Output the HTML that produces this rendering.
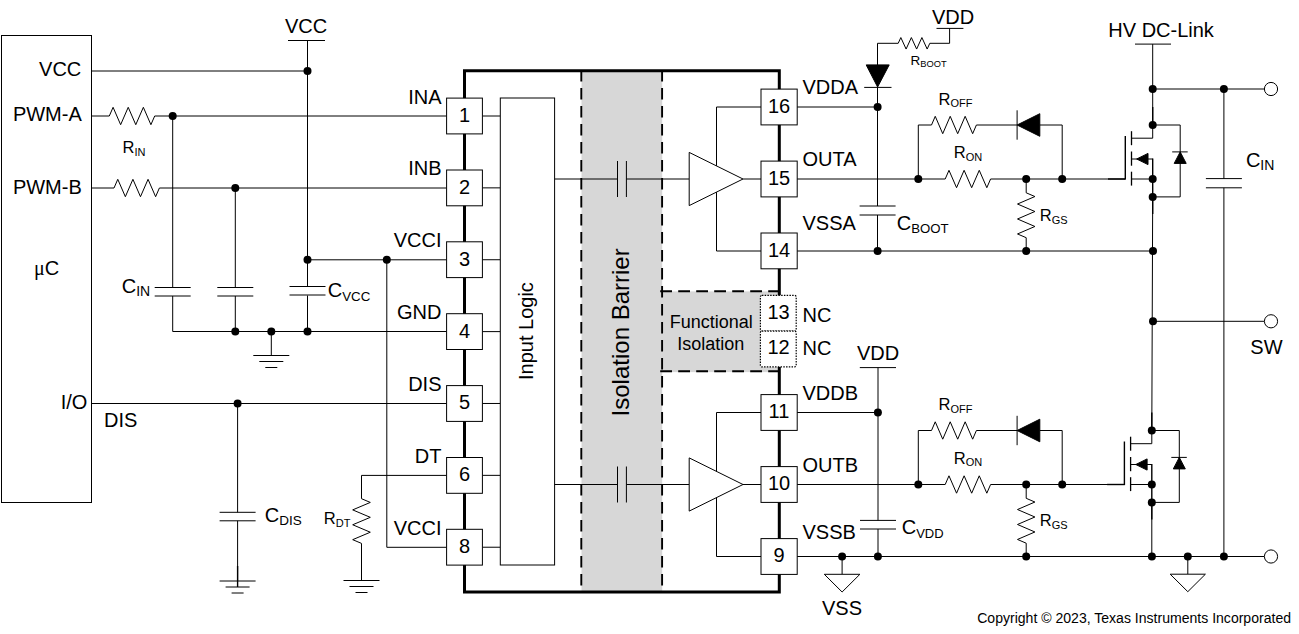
<!DOCTYPE html>
<html><head><meta charset="utf-8"><style>
html,body{margin:0;padding:0;background:#fff;width:1299px;height:634px;overflow:hidden}
svg{display:block}
text{font-family:"Liberation Sans",sans-serif}
</style></head><body>
<svg width="1299" height="634" viewBox="0 0 1299 634">
<rect x="0" y="0" width="1299" height="634" fill="#fff"/>
<rect x="581.5" y="71" width="80.7" height="520.5" fill="#d7d7d7"/>
<rect x="662" y="291.4" width="117" height="80.7" fill="#d7d7d7"/>
<g stroke="#000" stroke-width="1" fill="none">
<rect x="1.5" y="35.5" width="90" height="467" />
<line x1="288" y1="40.5" x2="325" y2="40.5" />
<line x1="307.5" y1="40.5" x2="307.5" y2="287" />
<line x1="307.5" y1="295.5" x2="307.5" y2="331.5" />
<line x1="91.5" y1="71" x2="307.5" y2="71" />
<circle cx="307.5" cy="71" r="4.0" fill="#000" stroke="none"/>
<line x1="91.5" y1="116" x2="109.3" y2="116" />
<polyline points="109.30,116.00 113.08,107.30 120.65,124.70 128.22,107.30 135.78,124.70 143.35,107.30 150.92,124.70 154.70,116.00" fill="none" />
<line x1="154.7" y1="116" x2="446.6" y2="116" />
<circle cx="172.7" cy="116" r="4.0" fill="#000" stroke="none"/>
<line x1="172.7" y1="116" x2="172.7" y2="287.5" />
<line x1="154.7" y1="287.5" x2="190.7" y2="287.5" />
<line x1="154.7" y1="296" x2="190.7" y2="296" />
<line x1="172.7" y1="296" x2="172.7" y2="331.5" />
<line x1="91.5" y1="188" x2="114" y2="188" />
<polyline points="114.00,188.00 117.78,179.30 125.35,196.70 132.92,179.30 140.48,196.70 148.05,179.30 155.62,196.70 159.40,188.00" fill="none" />
<line x1="159.4" y1="188" x2="446.6" y2="188" />
<circle cx="235.3" cy="188" r="4.0" fill="#000" stroke="none"/>
<line x1="235.3" y1="188" x2="235.3" y2="287.5" />
<line x1="217.3" y1="287.5" x2="253.3" y2="287.5" />
<line x1="217.3" y1="296" x2="253.3" y2="296" />
<line x1="235.3" y1="296" x2="235.3" y2="331.5" />
<line x1="289.5" y1="286.5" x2="325.5" y2="286.5" />
<line x1="289.5" y1="295" x2="325.5" y2="295" />
<line x1="307.5" y1="259.8" x2="446.6" y2="259.8" />
<circle cx="307.5" cy="259.8" r="4.0" fill="#000" stroke="none"/>
<circle cx="386.8" cy="259.8" r="4.0" fill="#000" stroke="none"/>
<line x1="386.8" y1="259.8" x2="386.8" y2="547.3" />
<line x1="386.8" y1="547.3" x2="446.6" y2="547.3" />
<line x1="172.7" y1="331.5" x2="446.6" y2="331.5" />
<circle cx="235.3" cy="331.5" r="4.0" fill="#000" stroke="none"/>
<circle cx="271.3" cy="331.5" r="4.0" fill="#000" stroke="none"/>
<circle cx="307.5" cy="331.5" r="4.0" fill="#000" stroke="none"/>
<line x1="271.3" y1="331.5" x2="271.3" y2="355.5" />
<line x1="253.3" y1="355.5" x2="289.3" y2="355.5" />
<line x1="259.3" y1="361.5" x2="283.3" y2="361.5" />
<line x1="265.3" y1="367.5" x2="277.3" y2="367.5" />
<line x1="91.5" y1="403.5" x2="446.6" y2="403.5" />
<circle cx="237.6" cy="403.5" r="4.0" fill="#000" stroke="none"/>
<line x1="237.6" y1="403.5" x2="237.6" y2="512.3" />
<line x1="219.6" y1="512.3" x2="255.6" y2="512.3" />
<line x1="219.6" y1="520.8" x2="255.6" y2="520.8" />
<line x1="237.6" y1="520.8" x2="237.6" y2="581" />
<line x1="237.6" y1="566" x2="237.6" y2="587" stroke-width="1.4" />
<line x1="219.6" y1="581" x2="255.6" y2="581" />
<line x1="225.6" y1="587.0" x2="249.6" y2="587.0" />
<line x1="231.6" y1="593.0" x2="243.6" y2="593.0" />
<line x1="361.5" y1="475.4" x2="446.6" y2="475.4" />
<line x1="361.5" y1="475.4" x2="361.5" y2="498.7" />
<polyline points="361.50,498.70 370.30,502.43 352.70,509.88 370.30,517.33 352.70,524.77 370.30,532.23 352.70,539.67 361.50,543.40" fill="none" />
<line x1="361.5" y1="543.4" x2="361.5" y2="580.5" />
<line x1="343.5" y1="580.5" x2="379.5" y2="580.5" />
<line x1="349.5" y1="586.5" x2="373.5" y2="586.5" />
<line x1="355.5" y1="592.5" x2="367.5" y2="592.5" />
<line x1="482.4" y1="116.0" x2="500.3" y2="116.0" />
<line x1="482.4" y1="187.87" x2="500.3" y2="187.87" />
<line x1="482.4" y1="259.74" x2="500.3" y2="259.74" />
<line x1="482.4" y1="331.61" x2="500.3" y2="331.61" />
<line x1="482.4" y1="403.48" x2="500.3" y2="403.48" />
<line x1="482.4" y1="475.35" x2="500.3" y2="475.35" />
<line x1="482.4" y1="547.22" x2="500.3" y2="547.22" />
<rect x="500.3" y="98" width="54.3" height="467" fill="#fff"/>
<line x1="554.6" y1="179.0" x2="617.5" y2="179.0" />
<line x1="617.5" y1="161.0" x2="617.5" y2="197.0" />
<line x1="626.4" y1="161.0" x2="626.4" y2="197.0" />
<line x1="626.4" y1="179.0" x2="689.2" y2="179.0" />
<line x1="554.6" y1="484.5" x2="617.5" y2="484.5" />
<line x1="617.5" y1="466.5" x2="617.5" y2="502.5" />
<line x1="626.4" y1="466.5" x2="626.4" y2="502.5" />
<line x1="626.4" y1="484.5" x2="689.2" y2="484.5" />
<polygon points="689.20,152.40 689.20,205.60 743.00,179.00" fill="#fff"/>
<line x1="743" y1="179.0" x2="761" y2="179.0" />
<line x1="716.5" y1="107.0" x2="716.5" y2="165.89776951672863" />
<line x1="716.5" y1="192.10223048327137" x2="716.5" y2="251.0" />
<line x1="716.5" y1="107.0" x2="761" y2="107.0" />
<line x1="716.5" y1="251.0" x2="761" y2="251.0" />
<polygon points="689.20,457.90 689.20,511.10 743.00,484.50" fill="#fff"/>
<line x1="743" y1="484.5" x2="761" y2="484.5" />
<line x1="716.5" y1="412.5" x2="716.5" y2="471.3977695167286" />
<line x1="716.5" y1="497.6022304832714" x2="716.5" y2="556.5" />
<line x1="716.5" y1="412.5" x2="761" y2="412.5" />
<line x1="716.5" y1="556.5" x2="761" y2="556.5" />
<g stroke-width="1.9" stroke-dasharray="11.7 6.3">
<line x1="581.3" y1="69.9" x2="581.3" y2="586" />
<line x1="662.1" y1="69.9" x2="662.1" y2="586" />
</g>
<g stroke-width="1.9" stroke-dasharray="11.8 6.2">
<line x1="660.2" y1="291.3" x2="779" y2="291.3" />
<line x1="660.2" y1="371.3" x2="779" y2="371.3" />
</g>
<path d="M779.3,295.5 L779.3,70.7 L464.5,70.7 L464.5,591.9 L779.3,591.9 L779.3,367" stroke-width="3" stroke-linejoin="miter"/>
<rect x="446.6" y="98.1" width="35.8" height="35.8" fill="#fff"/>
<rect x="446.6" y="170.0" width="35.8" height="35.8" fill="#fff"/>
<rect x="446.6" y="241.8" width="35.8" height="35.8" fill="#fff"/>
<rect x="446.6" y="313.7" width="35.8" height="35.8" fill="#fff"/>
<rect x="446.6" y="385.6" width="35.8" height="35.8" fill="#fff"/>
<rect x="446.6" y="457.5" width="35.8" height="35.8" fill="#fff"/>
<rect x="446.6" y="529.3" width="35.8" height="35.8" fill="#fff"/>
<rect x="761" y="89.1" width="36.2" height="35.8" fill="#fff"/>
<rect x="761" y="161.1" width="36.2" height="35.8" fill="#fff"/>
<rect x="761" y="233.0" width="36.2" height="35.8" fill="#fff"/>
<rect x="761" y="394.6" width="36.2" height="35.8" fill="#fff"/>
<rect x="761" y="466.6" width="36.2" height="35.8" fill="#fff"/>
<rect x="761" y="538.6" width="36.2" height="35.8" fill="#fff"/>
<g stroke-dasharray="1.5 1.25" stroke-width="1.2">
<rect x="760.4" y="295.4" width="35.8" height="35.7" rx="1.5" fill="#fff"/>
<rect x="760.4" y="331.1" width="35.8" height="35.8" rx="1.5" fill="#fff"/>
</g>
<line x1="797.2" y1="107" x2="877.5" y2="107" />
<circle cx="877.6" cy="107" r="4.0" fill="#000" stroke="none"/>
<line x1="877.5" y1="43.3" x2="877.5" y2="206" />
<polygon points="866.20,64.90 889.20,64.90 877.60,87.00" fill="#000"/>
<line x1="864.2" y1="87.4" x2="891.5" y2="87.4" />
<line x1="859.6" y1="206" x2="895.6" y2="206" />
<line x1="859.6" y1="215" x2="895.6" y2="215" />
<line x1="877.5" y1="215" x2="877.5" y2="251" />
<line x1="877.5" y1="43.3" x2="898.2" y2="43.3" />
<polyline points="898.20,43.30 900.83,37.55 906.10,49.05 911.37,37.55 916.63,49.05 921.90,37.55 927.17,49.05 929.80,43.30" fill="none" />
<line x1="929.8" y1="43.3" x2="949.6" y2="43.3" />
<line x1="949.6" y1="43.3" x2="949.6" y2="28.4" />
<line x1="936.5" y1="28.4" x2="963.4" y2="28.4" />
<line x1="797.2" y1="179.0" x2="1125.3" y2="179.0" />
<circle cx="918.3" cy="179.0" r="4.0" fill="#000" stroke="none"/>
<circle cx="1026.2" cy="179.0" r="4.0" fill="#000" stroke="none"/>
<circle cx="1062.2" cy="179.0" r="4.0" fill="#000" stroke="none"/>
<line x1="918.3" y1="179.0" x2="918.3" y2="125.0" />
<line x1="918.3" y1="125.0" x2="931.5" y2="125.0" />
<polyline points="931.50,125.00 935.24,116.30 942.73,133.70 950.21,116.30 957.69,133.70 965.17,116.30 972.66,133.70 976.40,125.00" fill="none" />
<line x1="976.4" y1="125.0" x2="1017.1" y2="125.0" />
<line x1="1017.1" y1="110.3" x2="1017.1" y2="139.7" />
<polygon points="1017.10,125.00 1039.80,113.70 1039.80,136.30" fill="#000"/>
<line x1="1039.8" y1="125.0" x2="1062.2" y2="125.0" />
<line x1="1062.2" y1="125.0" x2="1062.2" y2="179.0" />
<line x1="945.2" y1="179.0" x2="990.6" y2="179.0" stroke="#fff" stroke-width="3"/>
<polyline points="945.20,179.00 948.98,170.30 956.55,187.70 964.12,170.30 971.68,187.70 979.25,170.30 986.82,187.70 990.60,179.00" fill="none" />
<line x1="1026.2" y1="179.0" x2="1026.2" y2="192.8" />
<polyline points="1026.20,192.80 1034.90,196.54 1017.50,204.03 1034.90,211.51 1017.50,218.99 1034.90,226.47 1017.50,233.96 1026.20,237.70" fill="none" />
<line x1="1026.2" y1="237.7" x2="1026.2" y2="251.0" />
<circle cx="1026.2" cy="251.0" r="4.0" fill="#000" stroke="none"/>
<line x1="797.2" y1="484.5" x2="1124" y2="484.5" />
<circle cx="918.3" cy="484.5" r="4.0" fill="#000" stroke="none"/>
<circle cx="1026.2" cy="484.5" r="4.0" fill="#000" stroke="none"/>
<circle cx="1062.2" cy="484.5" r="4.0" fill="#000" stroke="none"/>
<line x1="918.3" y1="484.5" x2="918.3" y2="430.5" />
<line x1="918.3" y1="430.5" x2="931.5" y2="430.5" />
<polyline points="931.50,430.50 935.24,421.80 942.73,439.20 950.21,421.80 957.69,439.20 965.17,421.80 972.66,439.20 976.40,430.50" fill="none" />
<line x1="976.4" y1="430.5" x2="1017.1" y2="430.5" />
<line x1="1017.1" y1="415.8" x2="1017.1" y2="445.2" />
<polygon points="1017.10,430.50 1039.80,419.20 1039.80,441.80" fill="#000"/>
<line x1="1039.8" y1="430.5" x2="1062.2" y2="430.5" />
<line x1="1062.2" y1="430.5" x2="1062.2" y2="484.5" />
<line x1="945.2" y1="484.5" x2="990.6" y2="484.5" stroke="#fff" stroke-width="3"/>
<polyline points="945.20,484.50 948.98,475.80 956.55,493.20 964.12,475.80 971.68,493.20 979.25,475.80 986.82,493.20 990.60,484.50" fill="none" />
<line x1="1026.2" y1="484.5" x2="1026.2" y2="498.3" />
<polyline points="1026.20,498.30 1034.90,502.04 1017.50,509.53 1034.90,517.01 1017.50,524.49 1034.90,531.98 1017.50,539.46 1026.20,543.20" fill="none" />
<line x1="1026.2" y1="543.2" x2="1026.2" y2="556.5" />
<circle cx="1026.2" cy="556.5" r="4.0" fill="#000" stroke="none"/>
<line x1="797.2" y1="251" x2="1153" y2="251" />
<circle cx="877.6" cy="251" r="4.0" fill="#000" stroke="none"/>
<circle cx="1153" cy="251" r="4.0" fill="#000" stroke="none"/>
<line x1="1135" y1="44.1" x2="1171" y2="44.1" />
<line x1="1152.7" y1="44.1" x2="1152.7" y2="125" />
<line x1="1152.7" y1="89" x2="1264.4" y2="89" />
<circle cx="1152.7" cy="89" r="4.0" fill="#000" stroke="none"/>
<circle cx="1223.9" cy="89" r="4.0" fill="#000" stroke="none"/>
<circle cx="1271" cy="89" r="6.6" fill="#fff"/>
<line x1="1223.9" y1="89" x2="1223.9" y2="178.6" />
<line x1="1205.9" y1="178.6" x2="1241.9" y2="178.6" />
<line x1="1205.9" y1="187.8" x2="1241.9" y2="187.8" />
<line x1="1223.9" y1="187.8" x2="1223.9" y2="556.5" />
<line x1="1152.7" y1="107" x2="1152.7" y2="125" stroke-width="1.4" />
<circle cx="1152.7" cy="125" r="4.0" fill="#000" stroke="none"/>
<line x1="1152.7" y1="125" x2="1180.2" y2="125" />
<line x1="1180.2" y1="125" x2="1180.2" y2="196.9" />
<line x1="1180.2" y1="196.9" x2="1152.7" y2="196.9" />
<line x1="1172.2" y1="151.9" x2="1187.7" y2="151.9" />
<polygon points="1180.20,151.90 1174.20,163.40 1186.20,163.40" fill="#000"/>
<line x1="1125.3" y1="136" x2="1125.3" y2="179.6" stroke-width="1.4" />
<line x1="1108" y1="179.0" x2="1125.3" y2="179.0" stroke-width="1.4" />
<line x1="1131.5" y1="131.2" x2="1131.5" y2="145.2" stroke-width="1.3" />
<line x1="1131.5" y1="151.5" x2="1131.5" y2="165.7" stroke-width="1.3" />
<line x1="1131.5" y1="171.7" x2="1131.5" y2="185.6" stroke-width="1.3" />
<line x1="1131.5" y1="138.2" x2="1152.7" y2="138.2" />
<line x1="1152.7" y1="138.2" x2="1152.7" y2="125" />
<line x1="1131.5" y1="159" x2="1152.7" y2="159" />
<polygon points="1136.70,159.00 1148.00,153.40 1148.00,164.60" fill="#000"/>
<line x1="1152.7" y1="158.4" x2="1152.7" y2="179.0" stroke-width="1.4" />
<line x1="1131.5" y1="179.0" x2="1152.7" y2="179.0" />
<circle cx="1152.7" cy="179.0" r="4.0" fill="#000" stroke="none"/>
<line x1="1152.7" y1="179.0" x2="1152.7" y2="214" stroke-width="1.4" />
<circle cx="1152.7" cy="196.9" r="4.0" fill="#000" stroke="none"/>
<line x1="1151.8" y1="412.5" x2="1151.8" y2="430.5" stroke-width="1.4" />
<circle cx="1151.8" cy="430.5" r="4.0" fill="#000" stroke="none"/>
<line x1="1151.8" y1="430.5" x2="1179.3" y2="430.5" />
<line x1="1179.3" y1="430.5" x2="1179.3" y2="502.4" />
<line x1="1179.3" y1="502.4" x2="1151.8" y2="502.4" />
<line x1="1171.3" y1="457.4" x2="1186.8" y2="457.4" />
<polygon points="1179.30,457.40 1173.30,468.90 1185.30,468.90" fill="#000"/>
<line x1="1124.3999999999999" y1="441.5" x2="1124.3999999999999" y2="485.1" stroke-width="1.4" />
<line x1="1107.1" y1="484.5" x2="1124.3999999999999" y2="484.5" stroke-width="1.4" />
<line x1="1130.6" y1="436.7" x2="1130.6" y2="450.7" stroke-width="1.3" />
<line x1="1130.6" y1="457.0" x2="1130.6" y2="471.2" stroke-width="1.3" />
<line x1="1130.6" y1="477.2" x2="1130.6" y2="491.1" stroke-width="1.3" />
<line x1="1130.6" y1="443.7" x2="1151.8" y2="443.7" />
<line x1="1151.8" y1="443.7" x2="1151.8" y2="430.5" />
<line x1="1130.6" y1="464.5" x2="1151.8" y2="464.5" />
<polygon points="1135.80,464.50 1147.10,458.90 1147.10,470.10" fill="#000"/>
<line x1="1151.8" y1="463.9" x2="1151.8" y2="484.5" stroke-width="1.4" />
<line x1="1130.6" y1="484.5" x2="1151.8" y2="484.5" />
<circle cx="1151.8" cy="484.5" r="4.0" fill="#000" stroke="none"/>
<line x1="1151.8" y1="484.5" x2="1151.8" y2="519.5" stroke-width="1.4" />
<circle cx="1151.8" cy="502.4" r="4.0" fill="#000" stroke="none"/>
<line x1="1152.7" y1="196.9" x2="1151.8" y2="430.4" />
<circle cx="1153" cy="321.3" r="4.0" fill="#000" stroke="none"/>
<line x1="1153" y1="321.3" x2="1264.4" y2="321.3" />
<circle cx="1271" cy="321.3" r="6.6" fill="#fff"/>
<line x1="1151.8" y1="502.4" x2="1151.8" y2="556.5" />
<line x1="797.2" y1="412.5" x2="878" y2="412.5" />
<circle cx="877.9" cy="412.5" r="4.0" fill="#000" stroke="none"/>
<line x1="859.8" y1="367.6" x2="896" y2="367.6" />
<line x1="878" y1="367.6" x2="878" y2="520.4" />
<line x1="860" y1="520.4" x2="896" y2="520.4" />
<line x1="860" y1="529" x2="896" y2="529" />
<line x1="878" y1="529" x2="878" y2="556.5" />
<line x1="797.2" y1="556.5" x2="1264.4" y2="556.5" />
<circle cx="1271" cy="556.5" r="6.6" fill="#fff"/>
<circle cx="842.1" cy="556.5" r="4.0" fill="#000" stroke="none"/>
<circle cx="877.9" cy="556.5" r="4.0" fill="#000" stroke="none"/>
<circle cx="1151.9" cy="556.5" r="4.0" fill="#000" stroke="none"/>
<circle cx="1187.8" cy="556.5" r="4.0" fill="#000" stroke="none"/>
<circle cx="1223.9" cy="556.5" r="4.0" fill="#000" stroke="none"/>
<line x1="842.1" y1="556.5" x2="842.1" y2="574.3" />
<polygon points="824.30,574.30 859.90,574.30 842.10,592.00" fill="#fff"/>
<line x1="1187.8" y1="556.5" x2="1187.8" y2="574.2" />
<polygon points="1170.20,574.20 1205.40,574.20 1187.80,591.70" fill="#fff"/>
</g>
<g font-family="Liberation Sans, sans-serif" fill="#000" stroke="none">
<text x="81.3" y="76" font-size="20" text-anchor="end" >VCC</text>
<text x="81.8" y="121" font-size="20" text-anchor="end" >PWM-A</text>
<text x="81.8" y="194" font-size="20" text-anchor="end" >PWM-B</text>
<text x="34" y="274.8" font-size="20"><tspan font-family="Liberation Serif, serif">μ</tspan>C</text>
<text x="87.3" y="409" font-size="20" text-anchor="end" >I/O</text>
<text x="104" y="426.5" font-size="20" text-anchor="start" >DIS</text>
<text x="306" y="32.5" font-size="20" text-anchor="middle" >VCC</text>
<text x="441.5" y="103.6" font-size="20" text-anchor="end" >INA</text>
<text x="441.5" y="175.47" font-size="20" text-anchor="end" >INB</text>
<text x="441.5" y="247.34" font-size="20" text-anchor="end" >VCCI</text>
<text x="441.5" y="319.21000000000004" font-size="20" text-anchor="end" >GND</text>
<text x="441.5" y="391.08000000000004" font-size="20" text-anchor="end" >DIS</text>
<text x="441.5" y="462.95000000000005" font-size="20" text-anchor="end" >DT</text>
<text x="441.5" y="534.82" font-size="20" text-anchor="end" >VCCI</text>
<text x="464.5" y="121.9" font-size="20" text-anchor="middle" >1</text>
<text x="464.5" y="193.77" font-size="20" text-anchor="middle" >2</text>
<text x="464.5" y="265.64" font-size="20" text-anchor="middle" >3</text>
<text x="464.5" y="337.51" font-size="20" text-anchor="middle" >4</text>
<text x="464.5" y="409.38" font-size="20" text-anchor="middle" >5</text>
<text x="464.5" y="481.25" font-size="20" text-anchor="middle" >6</text>
<text x="464.5" y="553.12" font-size="20" text-anchor="middle" >8</text>
<text x="779" y="112.9" font-size="20" text-anchor="middle" >16</text>
<text x="779" y="184.9" font-size="20" text-anchor="middle" >15</text>
<text x="779" y="256.8" font-size="20" text-anchor="middle" >14</text>
<text x="779" y="418.4" font-size="20" text-anchor="middle" >11</text>
<text x="779" y="490.4" font-size="20" text-anchor="middle" >10</text>
<text x="779" y="562.4" font-size="20" text-anchor="middle" >9</text>
<text x="778.5" y="318.6" font-size="20" text-anchor="middle" >13</text>
<text x="778.5" y="354.3" font-size="20" text-anchor="middle" >12</text>
<text x="802.5" y="94.3" font-size="20" text-anchor="start" >VDDA</text>
<text x="802.5" y="166" font-size="20" text-anchor="start" >OUTA</text>
<text x="802.5" y="229.6" font-size="20" text-anchor="start" >VSSA</text>
<text x="802.5" y="321.6" font-size="20" text-anchor="start" >NC</text>
<text x="802.5" y="355.2" font-size="20" text-anchor="start" >NC</text>
<text x="802.5" y="399.6" font-size="20" text-anchor="start" >VDDB</text>
<text x="802.5" y="471.7" font-size="20" text-anchor="start" >OUTB</text>
<text x="802.5" y="538.7" font-size="20" text-anchor="start" >VSSB</text>
<text x="953" y="23.7" font-size="20" text-anchor="middle" >VDD</text>
<text x="878" y="359.5" font-size="20" text-anchor="middle" >VDD</text>
<text x="842" y="614.7" font-size="20" text-anchor="middle" >VSS</text>
<text x="1108.3" y="36.5" font-size="20" text-anchor="start" >HV DC-Link</text>
<text x="1250.3" y="353.7" font-size="20" text-anchor="start" >SW</text>
<text x="122.5" y="152.6" font-size="16.5" >R<tspan font-size="11" dy="3">IN</tspan></text>
<text x="121.7" y="292.5" font-size="20" >C<tspan font-size="14" dy="3.3">IN</tspan></text>
<text x="327.8" y="297.4" font-size="20" >C<tspan font-size="13.3" dy="3.2">VCC</tspan></text>
<text x="264.8" y="521.6" font-size="20" >C<tspan font-size="13.5" dy="3.2">DIS</tspan></text>
<text x="323.8" y="523.7" font-size="16.5" >R<tspan font-size="11" dy="3.3">DT</tspan></text>
<text x="910.5" y="64.9" font-size="13.5" >R<tspan font-size="9.3" dy="2">BOOT</tspan></text>
<text x="896.7" y="229.5" font-size="20" >C<tspan font-size="13.2" dy="3.4">BOOT</tspan></text>
<text x="901.7" y="534.4" font-size="20" >C<tspan font-size="13" dy="3.3">VDD</tspan></text>
<text x="1245.9" y="166.6" font-size="20" >C<tspan font-size="14" dy="3.2">IN</tspan></text>
<text x="938.6" y="104.5" font-size="16.5" >R<tspan font-size="11" dy="2.6">OFF</tspan></text>
<text x="953.8" y="157.9" font-size="16.5" >R<tspan font-size="11" dy="2.7">ON</tspan></text>
<text x="1039.8" y="220.8" font-size="16.5" >R<tspan font-size="11" dy="3">GS</tspan></text>
<text x="938.6" y="410.1" font-size="16.5" >R<tspan font-size="11" dy="2.6">OFF</tspan></text>
<text x="953.8" y="463.5" font-size="16.5" >R<tspan font-size="11" dy="2.7">ON</tspan></text>
<text x="1039.8" y="526.4000000000001" font-size="16.5" >R<tspan font-size="11" dy="3">GS</tspan></text>
<text x="669.8" y="328" font-size="18" text-anchor="start" >Functional</text>
<text x="677.3" y="349.5" font-size="18" text-anchor="start" >Isolation</text>
<text transform="translate(532.6,380) rotate(-90)" font-size="20">Input Logic</text>
<text transform="translate(628.5,416.4) rotate(-90)" font-size="24">Isolation Barrier</text>
<text x="977.2" y="622.6" font-size="14.06" text-anchor="start" >Copyright © 2023, Texas Instruments Incorporated</text>
</g>
</svg>
</body></html>
